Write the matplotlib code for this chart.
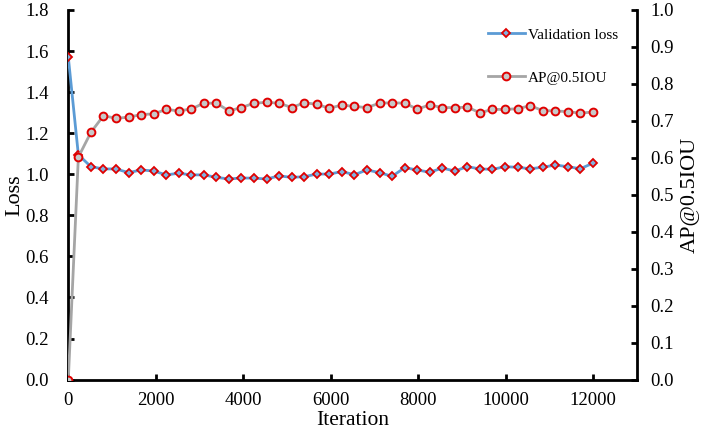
import matplotlib
matplotlib.use("Agg")
import matplotlib.pyplot as plt

plt.rcParams['font.family'] = ['Liberation Serif', 'DejaVu Serif']

iterations = [0, 230, 517, 804, 1091, 1378, 1665, 1952, 2239, 2526, 2813, 3100,
              3387, 3674, 3961, 4248, 4535, 4822, 5109, 5396, 5683, 5970, 6257,
              6544, 6831, 7118, 7405, 7692, 7979, 8266, 8553, 8840, 9127, 9414,
              9701, 9988, 10275, 10562, 10849, 11136, 11423, 11710, 12000]

val_loss = [1.57, 1.095, 1.037, 1.026, 1.026, 1.008, 1.021, 1.016, 0.997, 1.005,
            0.997, 0.997, 0.985, 0.977, 0.982, 0.981, 0.977, 0.992, 0.985, 0.988,
            1.001, 1.001, 1.013, 0.998, 1.021, 1.008, 0.990, 1.032, 1.021, 1.010,
            1.030, 1.016, 1.037, 1.026, 1.024, 1.037, 1.034, 1.027, 1.034, 1.045,
            1.037, 1.027, 1.054]

ap50 = [0.0, 0.602, 0.669, 0.714, 0.707, 0.710, 0.717, 0.719, 0.731, 0.727,
        0.732, 0.748, 0.748, 0.727, 0.736, 0.748, 0.750, 0.748, 0.736, 0.749,
        0.745, 0.734, 0.743, 0.739, 0.736, 0.748, 0.749, 0.748, 0.732, 0.743,
        0.736, 0.736, 0.737, 0.722, 0.731, 0.731, 0.733, 0.741, 0.728, 0.727,
        0.725, 0.721, 0.724]

x_ticks = [0, 2000, 4000, 6000, 8000, 10000, 12000]
loss_ticks = [0.0, 0.2, 0.4, 0.6, 0.8, 1.0, 1.2, 1.4, 1.6, 1.8]
ap_ticks = [0.0, 0.1, 0.2, 0.3, 0.4, 0.5, 0.6, 0.7, 0.8, 0.9, 1.0]

fig = plt.figure(figsize=(7.08, 4.30), dpi=100)
ax = fig.add_axes([68.3 / 708, 1 - 379.6 / 430, (636.7 - 68.3) / 708, (379.6 - 10) / 430])
ax2 = ax.twinx()

blue = '#5B9BD5'
gray = '#A5A5A5'
red = '#E00000'

l1, = ax.plot(iterations, val_loss, color=blue, lw=2.0, marker='D', ms=4.2,
              mfc='#7FB2E0', mec=red, mew=1.3, zorder=3)
l2, = ax2.plot(iterations, ap50, color=gray, lw=2.0, marker='o', ms=5.6,
               mfc='#C8C8C8', mec=red, mew=1.4, zorder=3)

ax.set_xlim(0, 13000)
ax.set_ylim(0, 1.8)
ax2.set_ylim(0, 1.0)
ax.set_xticks(x_ticks)
ax.set_yticks(loss_ticks)
ax.set_yticklabels([f"{v:.1f}" for v in loss_ticks])
ax2.set_yticks(ap_ticks)
ax2.set_yticklabels([f"{v:.1f}" for v in ap_ticks])

for a in (ax, ax2):
    a.spines['top'].set_visible(False)
    for s in a.spines.values():
        s.set_linewidth(2)
        s.set_color('black')
ax.spines['right'].set_visible(False)
ax2.spines['left'].set_visible(False)
ax2.spines['bottom'].set_visible(False)

ax.tick_params(axis='y', direction='in', length=4, width=2, labelsize=13.5, pad=14)
ax.tick_params(axis='x', direction='in', length=4, width=2, labelsize=13.5, pad=9)
ax2.tick_params(axis='y', direction='in', length=4, width=2, labelsize=13.5, pad=10)

ax.set_xlabel('Iteration', fontsize=15.5, va='center', ha='center')
ax.set_ylabel('Loss', fontsize=16, va='center', ha='center')
ax2.set_ylabel('AP@0.5IOU', fontsize=16, va='center', ha='center')
ax.xaxis.set_label_coords(0.5, -0.111)
ax.yaxis.set_label_coords(-0.094, 0.5)
ax2.yaxis.set_label_coords(1.094, 0.5)

leg = ax2.legend([l1, l2], ['Validation loss', 'AP@0.5IOU'], loc='upper left',
                 bbox_to_anchor=(482 / 708, 1 - 22 / 430), bbox_transform=fig.transFigure,
                 frameon=False, fontsize=11, labelspacing=1.9, handlelength=2.4,
                 handletextpad=0.2, borderaxespad=0)
leg.set_zorder(5)

fig.savefig('out.png', dpi=100)
